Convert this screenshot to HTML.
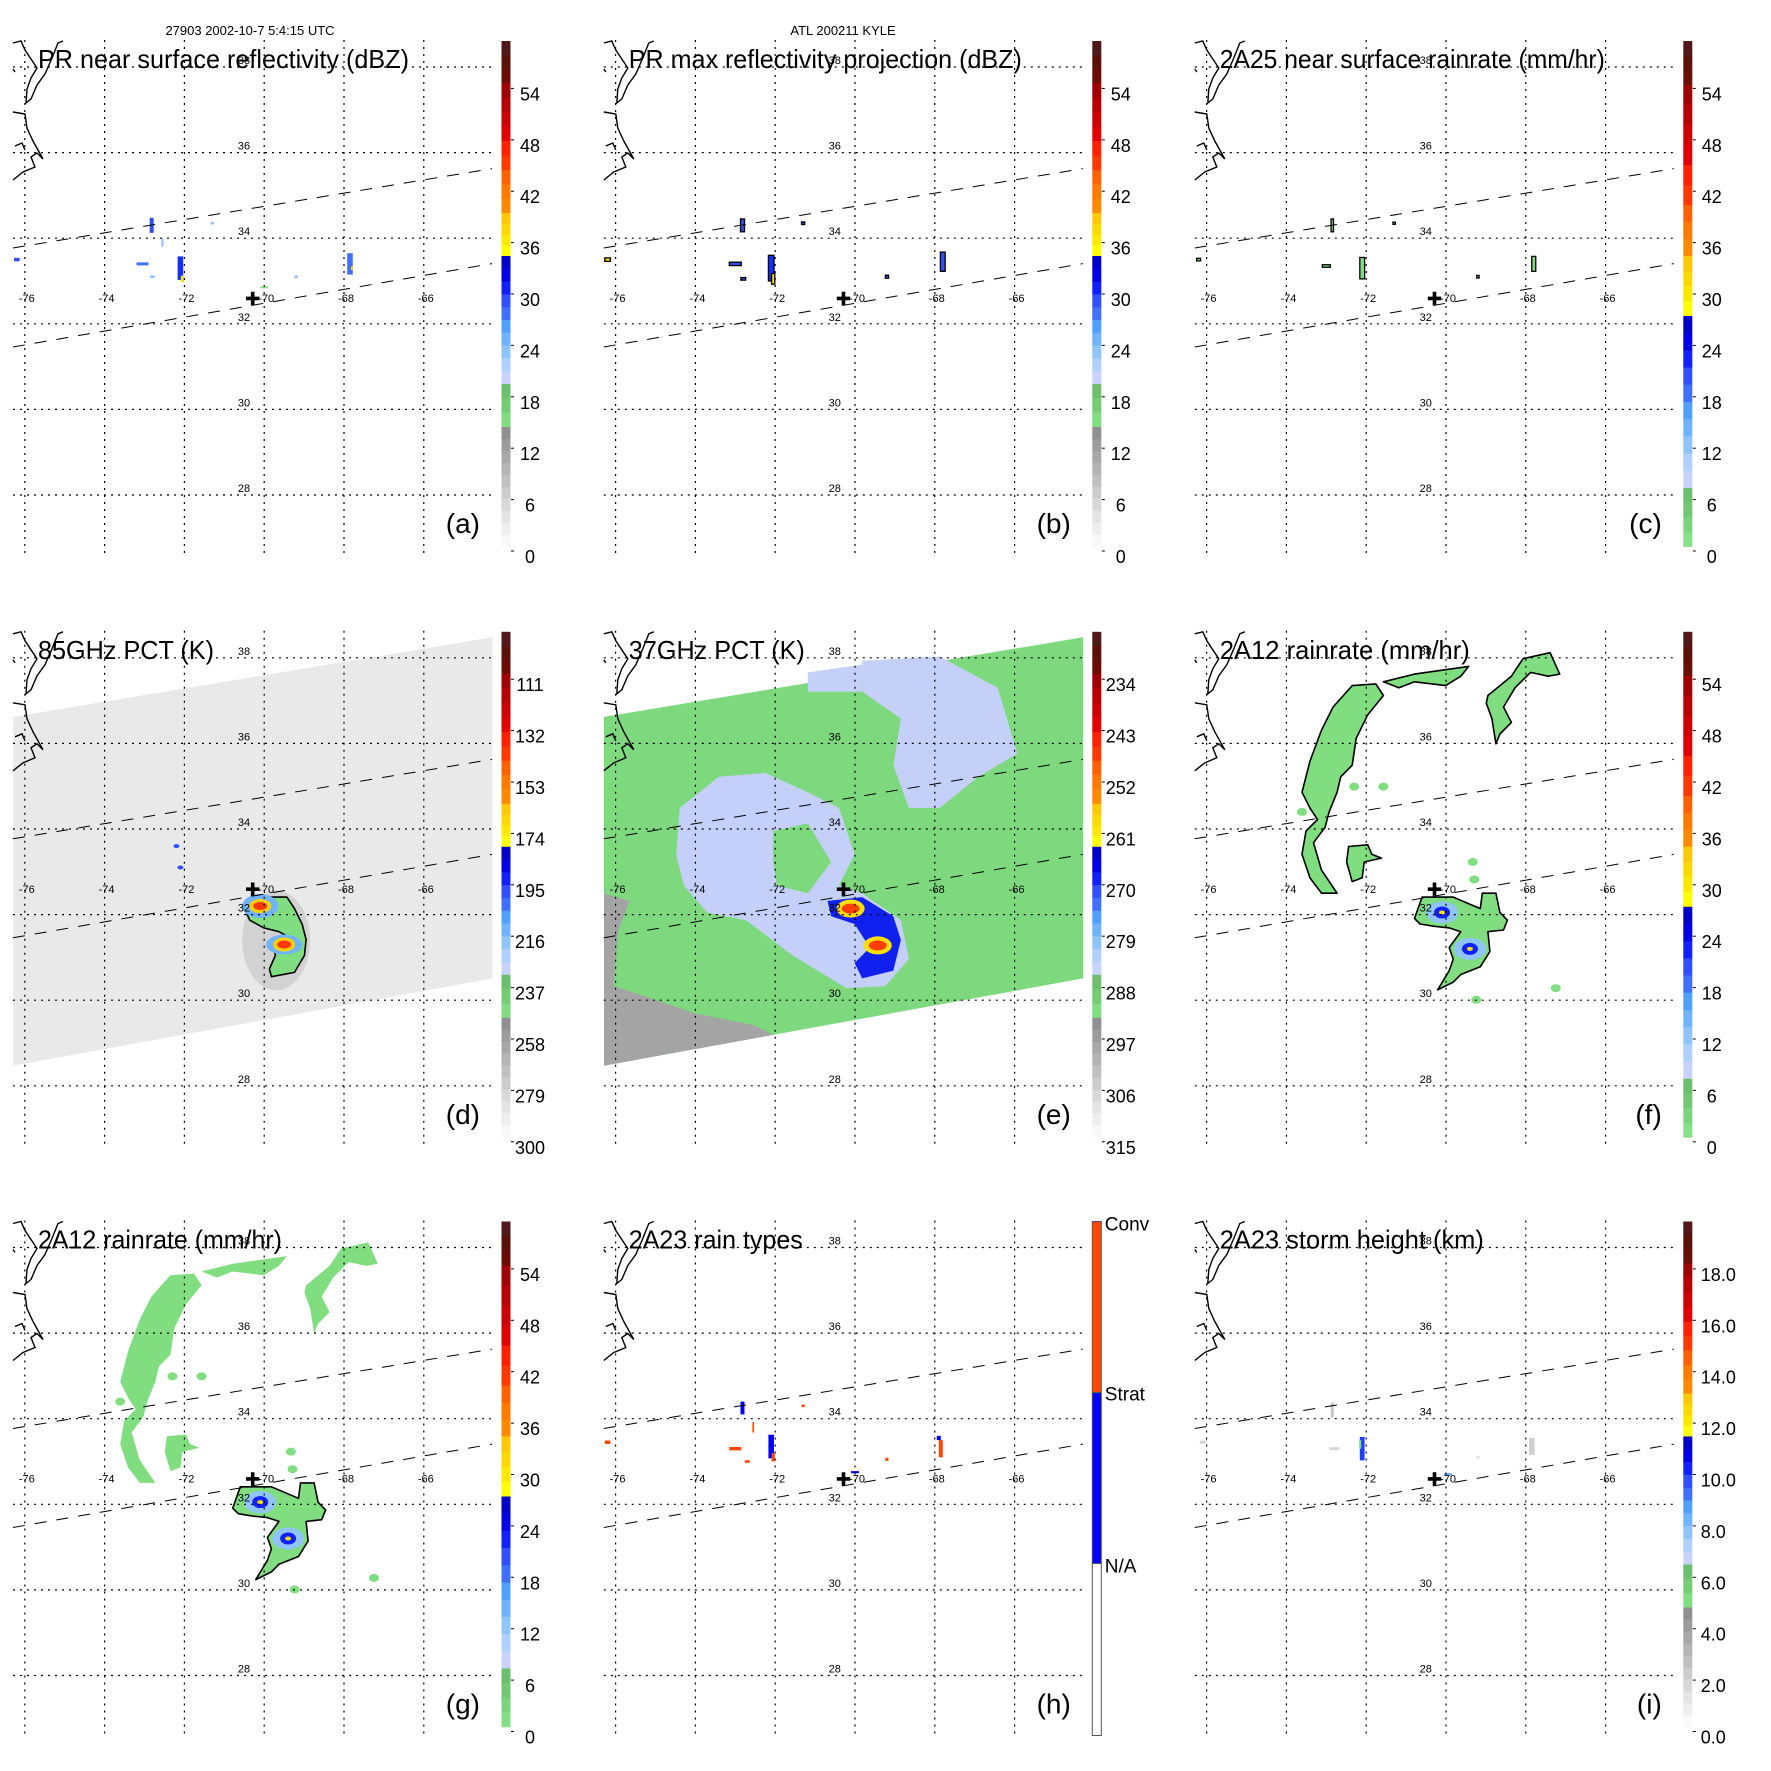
<!DOCTYPE html>
<html><head><meta charset="utf-8">
<style>
html,body{margin:0;padding:0;background:#fff;}
svg{display:block;font-family:"Liberation Sans",Arial,sans-serif;}
</style></head>
<body>
<svg id="fig" width="1771" height="1771" viewBox="0 0 1771 1771" xmlns="http://www.w3.org/2000/svg">
<rect x="0" y="0" width="1771" height="1771" fill="#fff"/>
<text x="250" y="35" font-size="13" text-anchor="middle">27903 2002-10-7 5:4:15 UTC</text>
<text x="843" y="35" font-size="13" text-anchor="middle">ATL 200211 KYLE</text>
</svg>
<script>
// ---- colorbar tick labels (bottom -> top) ----
const labelsDBZ = ["0","6","12","18","24","30","36","42","48","54"];
const labels85 = ["300","279","258","237","216","195","174","153","132","111"];
const labels37 = ["315","306","297","288","279","270","261","252","243","234"];
const labelsRain = ["0","6","12","18","24","30","36","42","48","54"];
const labelsHeight = ["0.0","2.0","4.0","6.0","8.0","10.0","12.0","14.0","16.0","18.0"];
const lonTicks = [-76,-74,-72,-70,-68,-66];
const latTicks = [28,30,32,34,36,38];

// ---- PR cells [lon, lat, widthDeg, heightDeg, color] ----
const cellsA = [[-72.1,33.3,0.14,0.55,"#1030ff"],[-72.05,33.05,0.08,0.15,"#ffe000"],[-73.05,33.4,0.3,0.07,"#4070ff"],[-72.82,34.3,0.1,0.35,"#3050ff"],[-67.85,33.4,0.14,0.5,"#4070ff"],[-67.8,33.3,0.05,0.08,"#ffe000"],[-76.2,33.5,0.14,0.08,"#3050ff"],[-69.2,33.1,0.08,0.07,"#90c0ff"],[-71.3,34.35,0.08,0.06,"#90c0ff"],[-70.0,32.85,0.2,0.04,"#80dd80"],[-72.55,33.9,0.05,0.2,"#90c0ff"],[-72.8,33.1,0.12,0.06,"#90c0ff"]];
const cellsB = [[-72.1,33.3,0.14,0.6,"#1030ff"],[-72.05,33.05,0.08,0.25,"#ffe000"],[-73.0,33.4,0.3,0.08,"#3050ff"],[-72.82,34.3,0.1,0.3,"#3050ff"],[-67.8,33.45,0.12,0.45,"#3050ff"],[-76.2,33.5,0.14,0.08,"#ffe000"],[-69.2,33.1,0.08,0.07,"#3050ff"],[-71.3,34.35,0.08,0.06,"#3050ff"],[-72.8,33.05,0.12,0.06,"#3050ff"]];
const cellsC = [[-72.1,33.3,0.12,0.5,"#80dd80"],[-72.85,34.3,0.06,0.3,"#80dd80"],[-73.0,33.35,0.2,0.06,"#80dd80"],[-67.8,33.4,0.1,0.35,"#80dd80"],[-76.2,33.5,0.1,0.06,"#80dd80"],[-69.2,33.1,0.06,0.06,"#80dd80"],[-71.3,34.35,0.06,0.05,"#80dd80"]];
const cellsH = [[-72.1,33.35,0.14,0.55,"#0000ff"],[-72.05,33.1,0.08,0.2,"#ff4500"],[-73.0,33.3,0.3,0.08,"#ff4500"],[-72.82,34.25,0.1,0.3,"#0000ff"],[-67.85,33.3,0.1,0.4,"#ff4500"],[-67.9,33.55,0.1,0.1,"#0000ff"],[-76.2,33.45,0.14,0.08,"#ff4500"],[-69.2,33.05,0.08,0.07,"#ff4500"],[-71.3,34.3,0.08,0.06,"#ff4500"],[-70.0,32.75,0.2,0.05,"#0000ff"],[-72.55,33.8,0.04,0.25,"#ff4500"],[-72.7,33.0,0.12,0.06,"#ff4500"]];
const cellsI = [[-72.1,33.3,0.12,0.55,"#2040ff"],[-72.15,33.4,0.05,0.2,"#80dd80"],[-72.85,34.2,0.08,0.35,"#c8c8c8"],[-72.8,33.3,0.25,0.07,"#d8d8d8"],[-67.85,33.35,0.14,0.4,"#d0d0d0"],[-76.1,33.45,0.14,0.07,"#d0d0d0"],[-69.95,32.7,0.2,0.06,"#70b0ff"],[-69.2,33.1,0.08,0.06,"#e0e0e0"]];

// ---- TMI swath / storm polygons [lon, lat] ----
const swath = [[-76.29,36.62],[-64.28,38.48],[-64.28,30.51],[-76.29,28.47]];
const stormD = [[-70.40,32.32],[-70.11,32.46],[-69.82,32.41],[-69.43,32.41],[-69.24,32.14],[-69.05,31.78],[-68.95,31.42],[-68.99,31.05],[-69.24,30.65],[-69.82,30.55],[-69.87,30.73],[-69.72,31.05],[-69.77,31.23],[-69.43,31.50],[-69.63,31.60],[-70.01,31.69],[-70.36,31.87],[-70.45,32.05]];
const hotD = [[-70.1,32.2],[-69.5,31.3]];
const grayE = [[-76.29,32.50],[-75.65,32.32],[-75.94,31.60],[-76.04,30.33],[-75.16,30.06],[-74.00,29.69],[-72.54,29.42],[-72.05,29.19],[-76.29,28.47]];
const swirlE = [[-74.39,34.49],[-73.41,35.22],[-72.25,35.31],[-71.18,34.86],[-70.40,34.49],[-70.01,33.41],[-70.40,32.68],[-69.82,32.50],[-68.85,31.87],[-68.65,30.96],[-69.24,30.33],[-70.21,30.28],[-71.57,31.05],[-72.73,31.87],[-73.71,32.05],[-74.29,32.68],[-74.48,33.41]];
const innerE = [[-72.05,33.95],[-71.18,34.13],[-70.60,33.23],[-71.18,32.50],[-71.96,32.68],[-72.05,33.23]];
const upperE = [[-69.82,37.93],[-67.88,38.03],[-66.42,37.30],[-65.93,35.76],[-66.91,35.22],[-67.88,34.49],[-68.65,34.49],[-69.04,35.49],[-68.85,36.58],[-69.82,37.21]];
const upper2E = [[-71.18,37.66],[-69.82,37.84],[-69.82,37.21],[-71.18,37.21]];
const coreE = [[-70.69,32.32],[-69.82,32.41],[-69.04,31.96],[-68.85,31.41],[-69.04,30.69],[-69.82,30.51],[-70.01,30.87],[-69.63,31.23],[-70.01,31.78],[-70.60,31.96]];
const hotE = [[-70.11,32.14],[-69.43,31.28]];
// 2A12 rain bands
const bandLeft = [[-73.61,34.86],[-73.41,35.58],[-73.12,36.31],[-72.83,36.85],[-72.35,37.35],[-71.76,37.39],[-71.57,37.12],[-71.96,36.67],[-72.25,36.12],[-72.35,35.49],[-72.64,35.22],[-72.73,34.86],[-72.93,34.40],[-73.03,34.04],[-73.32,33.68],[-73.12,33.04],[-72.73,32.50],[-73.12,32.50],[-73.41,32.86],[-73.61,33.41],[-73.51,33.95],[-73.22,34.22],[-73.41,34.49]];
const bandTop = [[-71.57,37.44],[-70.79,37.62],[-69.43,37.80],[-69.63,37.57],[-70.01,37.35],[-70.79,37.44],[-71.18,37.30]];
const bandRight = [[-68.95,37.12],[-68.36,37.57],[-68.07,37.98],[-67.39,38.12],[-67.15,37.62],[-67.44,37.57],[-67.88,37.66],[-68.27,37.30],[-68.56,36.85],[-68.36,36.49],[-68.65,36.22],[-68.75,35.99],[-68.85,36.58],[-68.99,36.94]];
const blobMid = [[-72.44,33.59],[-71.96,33.63],[-71.86,33.41],[-71.62,33.32],[-72.05,33.23],[-72.10,32.86],[-72.35,32.77],[-72.49,33.23]];
const stormF = [[-70.79,31.91],[-70.60,32.41],[-69.82,32.41],[-69.14,32.14],[-69.09,32.50],[-68.75,32.50],[-68.65,32.05],[-68.46,31.87],[-68.56,31.64],[-68.95,31.60],[-68.90,31.14],[-69.14,30.78],[-69.63,30.60],[-69.82,30.42],[-70.21,30.24],[-69.92,30.69],[-69.82,30.96],[-69.92,31.23],[-69.63,31.60],[-69.92,31.69],[-70.31,31.73],[-70.65,31.78]];
const blueF = [[-70.1,32.05],[-69.4,31.2]];
const smallF = [[-69.33,33.23],[-69.29,32.82],[-67.25,30.28],[-69.24,30.01],[-71.57,34.99],[-72.30,34.99],[-73.61,34.40]];

const NS = "http://www.w3.org/2000/svg";
const svg = document.getElementById("fig");
const PX = lon => 24.8 + (lon + 76) * 39.9;
const PY = lat => 67 + (38 - lat) * 42.8;
function mk(tag, attrs, parent, txt) {
  const e = document.createElementNS(NS, tag);
  for (const k in attrs) e.setAttribute(k, attrs[k]);
  if (txt !== undefined) e.textContent = txt;
  parent.appendChild(e);
  return e;
}
function poly(g, pts, fill, stroke, name) {
  const d = pts.map((p, i) => (i ? "L" : "M") + PX(p[0]).toFixed(1) + "," + PY(p[1]).toFixed(1)).join("") + "Z";
  const e = mk("path", {d: d, fill: fill, stroke: stroke || "none", "stroke-width": 1.6, "stroke-linejoin": "round"}, g);
  
  
  return e;
}
function cells(g, arr, stroke, name) {
  arr.forEach(c => {
    const w = c[2] * 39.9, h = c[3] * 42.8;
    const r = mk("rect", {x: PX(c[0]) - w / 2, y: PY(c[1]) - h / 2, width: w, height: h, fill: c[4], stroke: stroke || "none", "stroke-width": 1.3}, g);
    
    
  });
}
function spot(g, p, rx, ry, fill, name) {
  const e = mk("ellipse", {cx: PX(p[0]), cy: PY(p[1]), rx: rx, ry: ry, fill: fill}, g);
  
  
}

const grays = ["#909090","#9c9c9c","#a8a8a8","#b4b4b4","#c0c0c0","#cccccc","#d8d8d8","#e4e4e4","#eeeeee","#f8f8f8"];
const blues = ["#0000c8","#0000e8","#1020ff","#3050ff","#4070ff","#50a0ff","#70b4ff","#90c4ff","#b0d0ff","#c8d4ff"];
const dark = ["#501818","#5c1008","#6a0d05"];
const reds = ["#a00000","#b80000","#cc0000","#e00000","#ff2000","#ff3800"];
const oranges = ["#ff6000","#ff7a00","#ff8a00"];
const yellows = ["#ffc800","#ffd800","#ffe800","#ffff00"];
const greens = ["#6cbf6c","#74cc74","#80dd80"];
const greens4 = ["#6cbf6c","#72c872","#7ad47a","#84e084"];
const bandsA = [[41,83,dark],[83,170,reds],[170,213,oranges],[213,256,yellows],[256,384,blues],[384,427,greens],[427,546.5,grays]];
const bandsC = [[41,85,dark],[85,205,reds],[205,256,oranges],[256,316,yellows],[316,488,blues],[488,546.5,greens4]];

const panels = [
  {id:"a",c:0,r:0,title:"PR near surface reflectivity (dBZ)",tw:371,bands:bandsA,labels:labelsDBZ},
  {id:"b",c:1,r:0,title:"PR max reflectivity projection (dBZ)",tw:393,bands:bandsA,labels:labelsDBZ},
  {id:"c",c:2,r:0,title:"2A25 near surface rainrate (mm/hr)",tw:385,bands:bandsC,labels:labelsRain},
  {id:"d",c:0,r:1,title:"85GHz PCT (K)",tw:176,bands:bandsA,labels:labels85},
  {id:"e",c:1,r:1,title:"37GHz PCT (K)",tw:176,bands:bandsA,labels:labels37},
  {id:"f",c:2,r:1,title:"2A12 rainrate (mm/hr)",tw:250,bands:bandsC,labels:labelsRain},
  {id:"g",c:0,r:2,title:"2A12 rainrate (mm/hr)",tw:244,bands:bandsC,labels:labelsRain},
  {id:"h",c:1,r:2,title:"2A23 rain types",tw:174,bands:null,labels:null},
  {id:"i",c:2,r:2,title:"2A23 storm height (km)",tw:264,bands:bandsA,labels:labelsHeight}
];
const colX = [0, 590.8, 1181.8], rowY = [0, 590.8, 1180.5];

panels.forEach(p => {
  const g = mk("g", {transform: `translate(${colX[p.c]},${rowY[p.r]})`}, svg);
  
  
  const data = mk("g", {}, g);
  
  

  if (p.id === "a") cells(data, cellsA, null, "pr-cell");
  if (p.id === "b") cells(data, cellsB, "#000", "pr-max-cell");
  if (p.id === "c") cells(data, cellsC, "#000", "rain-cell");
  if (p.id === "h") cells(data, cellsH, null, "rain-type-cell");
  if (p.id === "i") cells(data, cellsI, null, "storm-height-cell");
  if (p.id === "d") {
    poly(data, swath, "#e9e9e9", null, "tmi-swath");
    spot(data, [-69.7, 31.4], 34, 50, "#d2d2d2", "cold-halo");
    poly(data, stormD, "#80dd80", "#000", "storm-region");
    spot(data, hotD[0], 18, 12, "#70b4ff", "blue-core");
    spot(data, hotD[1], 18, 10, "#70b4ff", "blue-core");
    hotD.forEach(h => { spot(data, h, 11, 7, "#ffd000", "yellow-core"); spot(data, h, 7, 4, "#ff3800", "red-core"); });
    spot(data, [-72.2, 33.6], 3, 2, "#3050ff", "small-cell");
    spot(data, [-72.1, 33.1], 3, 2, "#3050ff", "small-cell");
  }
  if (p.id === "e") {
    poly(data, swath, "#7ed87e", null, "tmi-swath");
    poly(data, grayE, "#a4a4a4", null, "warm-region");
    poly(data, upper2E, "#c4d0f8", null, "light-rain-patch");
    poly(data, upperE, "#c4d0f8", null, "light-rain-patch");
    poly(data, swirlE, "#c4d0fa", null, "rain-swirl");
    poly(data, innerE, "#7ed87e", null, "swirl-gap");
    poly(data, coreE, "#1020ee", null, "storm-core");
    hotE.forEach(h => { spot(data, h, 14, 9, "#ffe000", "yellow-core"); spot(data, h, 9, 5, "#ff4000", "red-core"); });
  }
  if (p.id === "f" || p.id === "g") {
    const st = p.id === "f" ? "#000" : null;
    [bandLeft, bandTop, bandRight, blobMid].forEach(b => poly(data, b, "#80dd80", st, "rain-band"));
    poly(data, stormF, "#80dd80", "#000", "storm-rain");
    blueF.forEach(h => { spot(data, h, 16, 11, "#90c4ff", "rain-core"); spot(data, h, 8, 6, "#1020ff", "heavy-rain-core"); spot(data, h, 3, 2, "#ffe000", "peak-rain"); });
    smallF.forEach(s => spot(data, s, 5, 4, "#80dd80", "small-rain-cell"));
  }

  // grid
  lonTicks.forEach(lon => {
    const l = mk("line", {x1: PX(lon), x2: PX(lon), y1: 40, y2: 555, stroke: "#000", "stroke-width": 1.2, "stroke-dasharray": "2,5"}, g);
    
    
    const t = mk("text", {x: PX(lon) + 2, y: 302, "font-size": 11, "text-anchor": "middle"}, g, String(lon));
    
    
  });
  latTicks.forEach(lat => {
    const l = mk("line", {x1: 13, x2: 492, y1: PY(lat), y2: PY(lat), stroke: "#000", "stroke-width": 1.2, "stroke-dasharray": "2,5"}, g);
    
    
    const t = mk("text", {x: 244, y: PY(lat) - 3, "font-size": 11, "text-anchor": "middle"}, g, String(lat));
    
    
  });
  // PR swath edges
  [[13,248,492,168.6],[13,347,492,263.6]].forEach(s => {
    const l = mk("line", {x1: s[0], y1: s[1], x2: s[2], y2: s[3], stroke: "#000", "stroke-width": 1, "stroke-dasharray": "12,10"}, g);
    
    
  });
  // coastline
  const coast = mk("path", {d: "M13,43 L21,41 L25,50 L29,56 L37,68 L31,78 L27,89 L26,103 L31,99 L37,85 L45,74 L52,58 L58,43 L63,41 M13,112 L25,114 L27,128 L33,141 L43,159 L37,153 L31,157 L35,167 L23,172 L13,180 M15,146 L22,143 L25,150 M13,69 L15,72", fill: "none", stroke: "#000", "stroke-width": 1.4}, g);
  
  
  // storm center cross
  const cross = mk("path", {d: "M246,298.4 H259.4 M252.7,291.7 V305.1", stroke: "#000", "stroke-width": 3.6}, g);
  
  
  // title & letter
  const tt = mk("text", {x: 38, y: 68, "font-size": 26, textLength: p.tw, lengthAdjust: "spacingAndGlyphs"}, g, p.title);
  
  
  const lt = mk("text", {x: 480, y: 533, "font-size": 28, "text-anchor": "end"}, g, "(" + p.id + ")");
  
  

  // colorbar
  const cb = mk("g", {}, g);
  
  
  if (p.bands) {
    p.bands.forEach(b => {
      const n = b[2].length, h = (b[1] - b[0]) / n;
      b[2].forEach((col, i) => {
        const r = mk("rect", {x: 501.5, y: b[0] + i * h, width: 9, height: h + 0.3, fill: col}, cb);
        
        
      });
    });
    p.labels.forEach((lab, i) => {
      const y = 557 - i * 51.4;
      const tk = mk("line", {x1: 511, x2: 514, y1: y - 6, y2: y - 6, stroke: "#000", "stroke-width": 1}, cb);
      
      
      const attrs = p.id === "i" ? {x: 519, y: y + 6, "font-size": 18} : {x: 530, y: y + 6, "font-size": 18, "text-anchor": "middle"};
      const t = mk("text", attrs, cb, lab);
      
      
    });
  } else {
    [[41,212,"#ff4500"],[212,383,"#0000ff"],[383,555,"#ffffff"]].forEach(s => {
      const r = mk("rect", {x: 501.5, y: s[0], width: 9, height: s[1] - s[0], fill: s[2], stroke: "#555", "stroke-width": 1}, cb);
      
      
    });
    [["Conv",50],["Strat",220],["N/A",392]].forEach(l => {
      const t = mk("text", {x: 514, y: l[1], "font-size": 19}, cb, l[0]);
      
      
    });
  }
});
</script>
</body></html>
